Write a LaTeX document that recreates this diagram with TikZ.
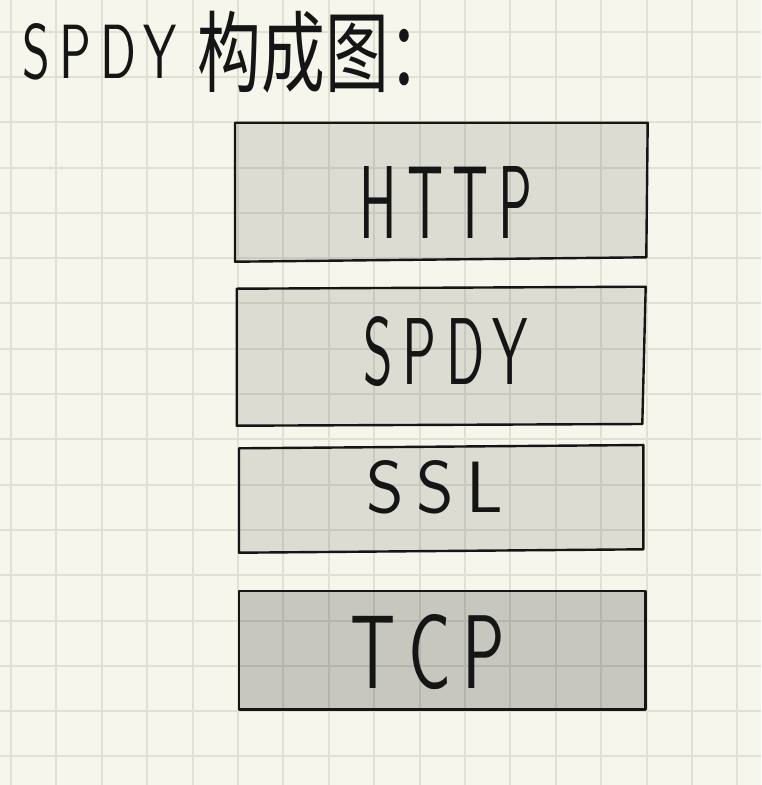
\documentclass[tikz,border=0pt]{standalone}
\usepackage{fontspec}
\usepackage{graphicx}
\newfontfamily\cjkfont{Noto Sans CJK SC}
\newfontfamily\handfont{lmsans10-regular.otf}[LetterSpace=18]
\newcommand\hand[1]{{\handfont #1}}
\definecolor{paper}{HTML}{F6F6EC}
\definecolor{gridc}{HTML}{E0E0D5}
\definecolor{ink}{HTML}{151515}
\tikzset{
  gridline/.style={draw=gridc, line width=2pt},
  layerbox/.style={draw=ink, line width=2.4pt, line join=round, fill=black, fill opacity=0.1},
  basebox/.style={layerbox, fill opacity=0.19},
  label/.style={inner sep=0pt, text=ink}
}
\begin{document}
\begin{tikzpicture}[x=1pt,y=-1pt]
\useasboundingbox (0,0) rectangle (761,785);
\fill[paper] (0,0) rectangle (761,785);
\foreach \i in {0,...,16} \draw[gridline] ({11+45.4*\i},0) -- ({11+45.4*\i},785);
\foreach \j in {0,...,16} \draw[gridline] (0,{31.6+45.3*\j}) -- (761,{31.6+45.3*\j});
% layers
\draw[layerbox] (235,122.7) -- (647.7,122.7) -- (646.3,257.3) -- (235,261.7) -- cycle;
\draw[layerbox] (236.7,288.7) -- (645.7,286.7) -- (642.3,424) -- (236.7,425.7) -- cycle;
\draw[layerbox] (239,448.3) -- (643.3,445) -- (643.3,549.3) -- (239,552.7) -- cycle;
\draw[basebox] (239,591) -- (645.3,591) -- (645.3,709.3) -- (239,709.3) -- cycle;
% labels
\node[label] (title) at (100,52) {\resizebox{154pt}{55pt}{\hand{SPDY}}};
\node[label] (titlecn) at (325,52) {\resizebox*{255pt}{82pt}{\cjkfont 构成图：}};
\node[label] (http) at (446,202) {\resizebox{172pt}{72pt}{\hand{HTTP}}};
\node[label] (spdy) at (446,352) {\resizebox{164pt}{68pt}{\hand{SPDY}}};
\node[label] (ssl) at (435,487) {\resizebox{136pt}{52pt}{\hand{SSL}}};
\node[label] (tcp) at (428,652) {\resizebox{154pt}{74pt}{\hand{TCP}}};
\end{tikzpicture}
\end{document}
